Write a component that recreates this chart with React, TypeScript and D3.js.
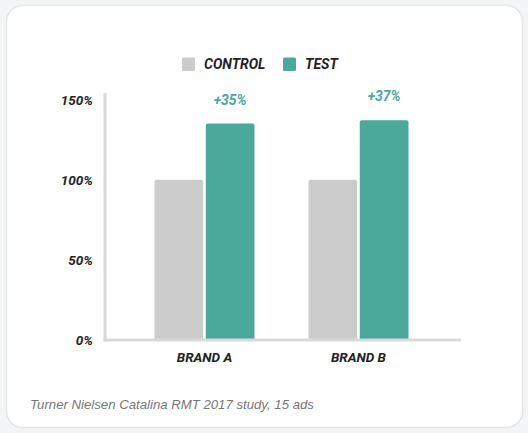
import React from "react";
import * as d3 from "d3";

const categories = ["BRAND A", "BRAND B"];
const seriesNames = ["CONTROL", "TEST"];
const controlValues = [1.0, 1.0];
const testValues = [1.35, 1.37];
const liftLabels = ["+35%", "+37%"];
const yTicks = [0, 0.5, 1.0, 1.5];
const footnote = "Turner Nielsen Catalina RMT 2017 study, 15 ads";

const W = 528;
const H = 433;
const COLORS = ["#cccccc", "#4aa99b"];
const FONT = "Roboto, 'Noto Sans', sans-serif";

export default function App() {
  const y = d3.scaleLinear().domain([0, 1.5]).range([340, 99.5]);
  const x0 = d3.scaleBand<string>().domain(categories).range([127.5, 435.5]).paddingInner(0).paddingOuter(0);
  const groupW = 100;
  const x1 = d3.scaleBand<string>().domain(seriesNames).range([0, groupW]).paddingInner(0.05);
  const series = [controlValues, testValues];
  const fmt = d3.format(".0%");

  return (
    <svg width={W} height={H} style={{ position: "absolute", left: 0, top: 0 }} xmlns="http://www.w3.org/2000/svg">
      <rect x={0} y={0} width={W} height={H} fill="#f3f4f6" />
      <rect x={6.5} y={5.5} width={516} height={422} rx={16} fill="#ffffff" stroke="#e4e5e7" strokeWidth={1.5} />

      {/* legend */}
      {seriesNames.map((s, i) => {
        const lx = [182, 283][i];
        return (
          <g key={s}>
            <rect x={lx} y={57.5} width={13} height={13.5} rx={1.5} fill={COLORS[i]} />
            <text x={lx + 22} y={69} fontFamily={FONT} fontWeight={700} fontStyle="italic" fontSize={14} fill="#222">
              {s}
            </text>
          </g>
        );
      })}

      {/* bars */}
      {categories.map((c, ci) => {
        const gx = (x0(c) as number) + x0.bandwidth() / 2 - groupW / 2;
        return (
          <g key={c} transform={`translate(${gx},0)`}>
            {seriesNames.map((s, si) => {
              const v = series[si][ci];
              const bx = x1(s) as number;
              const top = y(v);
              const r = 2;
              const w = x1.bandwidth();
              const path = `M${bx},${y(0)} V${top + r} Q${bx},${top} ${bx + r},${top} H${bx + w - r} Q${bx + w},${top} ${bx + w},${top + r} V${y(0)} Z`;
              return <path key={s} d={path} fill={COLORS[si]} />;
            })}
            <text
              x={(x1("TEST") as number) + x1.bandwidth() / 2}
              y={y(testValues[ci]) - 19}
              textAnchor="middle"
              fontFamily={FONT}
              fontWeight={700}
              fontStyle="italic"
              fontSize={14}
              fill="#4aa99b"
            >
              {liftLabels[ci]}
            </text>
          </g>
        );
      })}

      {/* axes */}
      <line x1={105} x2={105} y1={93} y2={341.5} stroke="#d9d9d9" strokeWidth={3} />
      <line x1={103.5} x2={461} y1={340} y2={340} stroke="#d9d9d9" strokeWidth={3} />

      {yTicks.map((t) => (
        <text
          key={t}
          x={93}
          y={y(t) + 5}
          textAnchor="end"
          fontFamily={FONT}
          fontWeight={700}
          fontStyle="italic"
          fontSize={13.5}
          fill="#222"
        >
          {fmt(t)}
        </text>
      ))}

      {categories.map((c) => (
        <text
          key={c}
          x={(x0(c) as number) + x0.bandwidth() / 2}
          y={362}
          textAnchor="middle"
          fontFamily={FONT}
          fontWeight={700}
          fontStyle="italic"
          fontSize={13.5}
          fill="#222"
        >
          {c}
        </text>
      ))}

      <text x={30} y={409} fontFamily="'Liberation Sans', Arial, sans-serif" fontStyle="italic" fontSize={13.2} fill="#777">
        {footnote}
      </text>
    </svg>
  );
}
